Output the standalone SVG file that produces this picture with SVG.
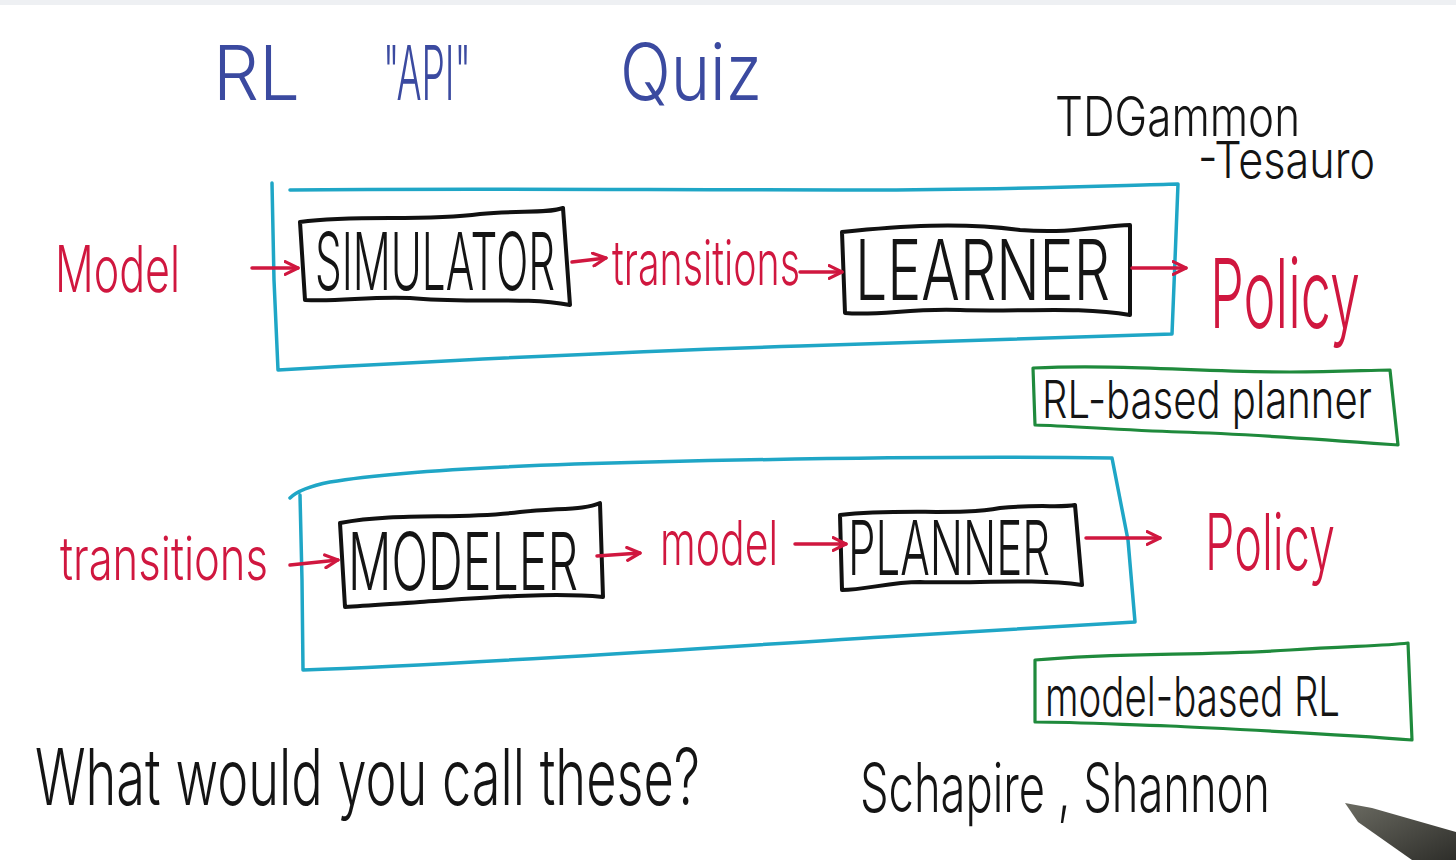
<svg xmlns="http://www.w3.org/2000/svg" width="1456" height="860" viewBox="0 0 1456 860">
  <style>
    .hand { font-family: "Inter", "Lato", "Open Sans", "DejaVu Sans", sans-serif; font-weight: 300; }
    .blue { fill: #3b4aa0; }
    .red { fill: #d0173f; }
    .ink { fill: #141414; }
    .frame-cyan { fill: none; stroke: #1fa6c6; stroke-width: 3.5; stroke-linejoin: round; stroke-linecap: round; }
    .frame-black { fill: none; stroke: #111; stroke-width: 4; stroke-linejoin: round; stroke-linecap: round; }
    .frame-green { fill: none; stroke: #1f8a3c; stroke-width: 3.2; stroke-linejoin: round; stroke-linecap: round; }
    .edge { fill: none; stroke: #d0173f; stroke-width: 3.5; stroke-linecap: round; }
  </style>
  <defs>
    <marker id="chev" viewBox="0 0 10 10" refX="9" refY="5" markerWidth="16" markerHeight="16" markerUnits="userSpaceOnUse" orient="auto">
      <path d="M1,1 L9,5 L1,9" fill="none" stroke="#d0173f" stroke-width="2" stroke-linecap="round" stroke-linejoin="round"/>
    </marker>
    <linearGradient id="penBody" x1="0" y1="0" x2="1" y2="1">
      <stop offset="0" stop-color="#6b6b62"/>
      <stop offset="1" stop-color="#2e2e2a"/>
    </linearGradient>
  </defs>

  <rect width="1456" height="860" fill="#ffffff"/>
  <rect width="1456" height="5" fill="#eef0f3"/>

  <!-- heading; tall narrow lettering is a font stretched upward about its baseline -->
  <g id="title" class="hand blue">
    <text x="213" y="100" font-size="76" textLength="87" lengthAdjust="spacingAndGlyphs">RL</text>
    <text x="383" y="100" font-size="40" textLength="88" lengthAdjust="spacingAndGlyphs" transform="matrix(1 0 0 1.9 0 -90)">"API"</text>
    <text x="620" y="100" font-size="66" textLength="142" lengthAdjust="spacingAndGlyphs" transform="matrix(1 0 0 1.18 0 -18)">Quiz</text>
  </g>

  <!-- pipeline frames -->
  <g id="frame-upper">
    <path class="frame-cyan" d="M272,183 L274,280 L278,370 C420,362 600,352 800,346 C950,342 1080,338 1172,334 L1175,260 L1178,184 C1100,186 1000,190 860,190 C650,190 450,188 290,190"/>
  </g>
  <g id="frame-lower">
    <path class="frame-cyan" d="M300,495 L302,580 L303,670 C480,664 700,648 900,636 C1000,630 1080,626 1135,622 L1128,540 L1112,458 C980,456 820,458 650,462 C520,465 400,470 330,482 C310,486 296,492 290,498"/>
  </g>

  <!-- processing nodes -->
  <g id="simulator">
    <path class="frame-black" d="M300,222 C360,214 420,222 480,214 C520,210 545,214 563,208 L570,305 C520,296 470,304 410,298 C370,296 340,302 305,300 L300,222"/>
    <text class="hand ink" x="315" y="290" font-size="43" textLength="240" lengthAdjust="spacingAndGlyphs" transform="matrix(1 0 0 1.86 0 -249.4)">SIMULATOR</text>
  </g>
  <g id="learner">
    <path class="frame-black" d="M842,232 C900,226 960,222 1020,230 C1070,234 1100,226 1130,225 L1130,315 C1080,306 1020,312 960,310 C910,308 880,316 845,313 Z"/>
    <text class="hand ink" x="855" y="300" font-size="59" textLength="255" lengthAdjust="spacingAndGlyphs" transform="matrix(1 0 0 1.42 0 -126)">LEARNER</text>
  </g>
  <g id="modeler">
    <path class="frame-black" d="M340,523 C400,512 460,520 520,512 C560,508 585,510 600,503 L603,597 C550,592 480,598 420,602 C390,604 365,606 345,607 Z"/>
    <text class="hand ink" x="348" y="590" font-size="50" textLength="230" lengthAdjust="spacingAndGlyphs" transform="matrix(1 0 0 1.6 0 -354)">MODELER</text>
  </g>
  <g id="planner">
    <path class="frame-black" d="M840,515 C900,508 960,516 1000,508 C1040,504 1060,508 1075,505 L1082,585 C1030,578 970,584 920,582 C890,582 865,590 842,590 Z"/>
    <text class="hand ink" x="848" y="575" font-size="45" textLength="202" lengthAdjust="spacingAndGlyphs" transform="matrix(1 0 0 1.69 0 -396.75)">PLANNER</text>
  </g>

  <!-- inputs and outputs -->
  <g id="label-model-in">
    <text class="hand red" x="55" y="292" font-size="43" textLength="125" lengthAdjust="spacingAndGlyphs" transform="matrix(1 0 0 1.49 0 -143.08)">Model</text>
  </g>
  <g id="label-transitions-mid">
    <text class="hand red" x="612" y="285" font-size="37" textLength="188" lengthAdjust="spacingAndGlyphs" transform="matrix(1 0 0 1.68 0 -193.8)">transitions</text>
  </g>
  <g id="label-policy-upper">
    <text class="hand red" x="1210" y="328" font-size="52" textLength="150" lengthAdjust="spacingAndGlyphs" transform="matrix(1 0 0 1.85 0 -278.8)">Policy</text>
  </g>
  <g id="label-transitions-in">
    <text class="hand red" x="60" y="580" font-size="41" textLength="208" lengthAdjust="spacingAndGlyphs" transform="matrix(1 0 0 1.46 0 -266.8)">transitions</text>
  </g>
  <g id="label-model-mid">
    <text class="hand red" x="660" y="565" font-size="40" textLength="118" lengthAdjust="spacingAndGlyphs" transform="matrix(1 0 0 1.55 0 -310.75)">model</text>
  </g>
  <g id="label-policy-lower">
    <text class="hand red" x="1205" y="570" font-size="46" textLength="130" lengthAdjust="spacingAndGlyphs" transform="matrix(1 0 0 1.7 0 -399)">Policy</text>
  </g>

  <!-- answers -->
  <g id="answer-upper">
    <path class="frame-green" d="M1033,368 C1120,364 1200,372 1290,372 C1340,372 1370,370 1390,370 L1398,445 C1330,440 1250,434 1180,432 C1120,430 1070,426 1035,425 L1033,368"/>
    <text class="hand ink" x="1042" y="418" font-size="40" textLength="330" lengthAdjust="spacingAndGlyphs" transform="matrix(1 0 0 1.3 0 -125.4)">RL-based planner</text>
  </g>
  <g id="answer-lower">
    <path class="frame-green" d="M1035,660 C1120,652 1200,656 1290,650 C1350,646 1385,646 1408,643 L1412,740 C1340,734 1250,730 1170,726 C1110,724 1070,722 1035,722 L1035,660"/>
    <text class="hand ink" x="1045" y="716" font-size="38" textLength="295" lengthAdjust="spacingAndGlyphs" transform="matrix(1 0 0 1.45 0 -322.2)">model-based RL</text>
  </g>

  <!-- notes -->
  <g id="note-tdgammon" class="hand ink">
    <text x="1055" y="136" font-size="43" textLength="245" lengthAdjust="spacingAndGlyphs" transform="matrix(1 0 0 1.28 0 -38.08)">TDGammon</text>
    <text x="1198" y="178" font-size="41" textLength="177" lengthAdjust="spacingAndGlyphs" transform="matrix(1 0 0 1.25 0 -44.5)">-Tesauro</text>
  </g>
  <g id="question">
    <text class="hand ink" x="35" y="805" font-size="50" textLength="665" lengthAdjust="spacingAndGlyphs" transform="matrix(1 0 0 1.56 0 -450.8)">What would you call these?</text>
  </g>
  <g id="note-names">
    <text class="hand ink" x="860" y="812" font-size="44" textLength="410" lengthAdjust="spacingAndGlyphs" transform="matrix(1 0 0 1.55 0 -446.6)">Schapire , Shannon</text>
  </g>

  <!-- arrows -->
  <g id="connectors">
    <path class="edge" marker-end="url(#chev)" d="M252,268 L298,268"/>
    <path class="edge" marker-end="url(#chev)" d="M572,262 L606,258"/>
    <path class="edge" marker-end="url(#chev)" d="M800,272 L842,272"/>
    <path class="edge" marker-end="url(#chev)" d="M1132,268 L1186,268"/>
    <path class="edge" marker-end="url(#chev)" d="M290,565 L338,560"/>
    <path class="edge" marker-end="url(#chev)" d="M597,556 L640,553"/>
    <path class="edge" marker-end="url(#chev)" d="M795,544 L846,544"/>
    <path class="edge" marker-end="url(#chev)" d="M1086,538 L1160,538"/>
  </g>

  <!-- marker pen -->
  <polygon points="1345,803 1372,808 1456,832 1456,860 1412,860 1358,822" fill="url(#penBody)"/>
</svg>
